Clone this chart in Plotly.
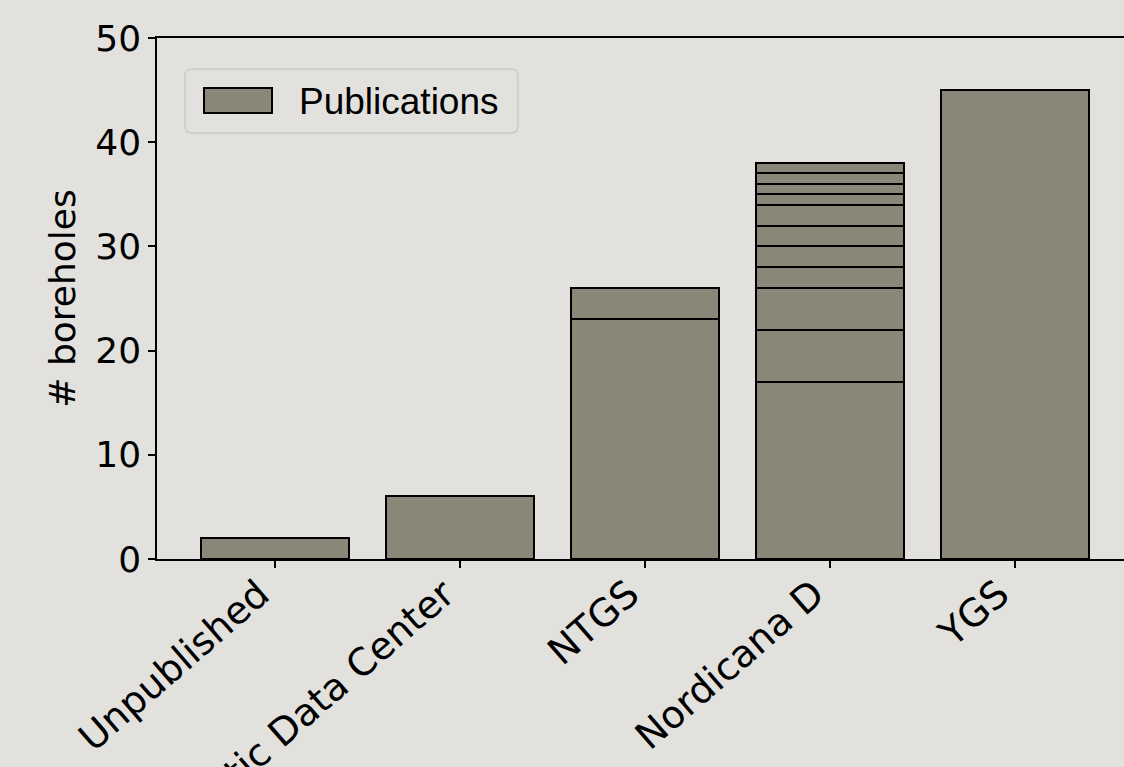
import plotly.graph_objects as go

# ---- data ----
categories = ["Unpublished", "Arctic Data Center", "NTGS", "Nordicana D", "YGS"]
unpublished_segments = [2]
arctic_segments = [6]
ntgs_segments = [23, 3]
nordicana_segments = [17, 5, 4, 2, 2, 2, 2, 1, 1, 1, 1]
ygs_segments = [45]
y_ticks = [0, 10, 20, 30, 40, 50]
legend_label = "Publications"
y_title = "# boreholes"

segments_by_cat = [unpublished_segments, arctic_segments, ntgs_segments,
                   nordicana_segments, ygs_segments]

BG = "#e2e1dd"
BAR = "#8a8779"

W, H = 1124, 767
L, R, T, B = 157, 0, 38, 208
PW, PH = W - L - R, H - T - B

fig = go.Figure()
n_levels = max(len(s) for s in segments_by_cat)
for lvl in range(n_levels):
    xs, ys = [], []
    for cat, segs in zip(categories, segments_by_cat):
        if lvl < len(segs):
            xs.append(cat)
            ys.append(segs[lvl])
    fig.add_trace(go.Bar(
        x=xs, y=ys, width=0.8,
        marker=dict(color=BAR, line=dict(color="black", width=2)),
        showlegend=False, name=legend_label,
    ))


def px2x(px):
    return (px - L) / PW


def px2y(py):
    return (H - B - py) / PH


# manual legend (matplotlib style)
x0, x1, y0, y1 = 185, 518, 69, 133
r = 7
rx, ry = r / PW, r / PH
X0, X1, Y0, Y1 = px2x(x0), px2x(x1), px2y(y1), px2y(y0)
path = (f"M {X0+rx},{Y0} L {X1-rx},{Y0} Q {X1},{Y0} {X1},{Y0+ry} "
        f"L {X1},{Y1-ry} Q {X1},{Y1} {X1-rx},{Y1} "
        f"L {X0+rx},{Y1} Q {X0},{Y1} {X0},{Y1-ry} "
        f"L {X0},{Y0+ry} Q {X0},{Y0} {X0+rx},{Y0} Z")
fig.add_shape(type="path", path=path, xref="paper", yref="paper",
              line=dict(color="#cbcac6", width=1.5), fillcolor=BG, layer="above")
fig.add_shape(type="rect", xref="paper", yref="paper",
              x0=px2x(204), x1=px2x(272), y0=px2y(113), y1=px2y(88),
              fillcolor=BAR, line=dict(color="black", width=2), layer="above")
fig.add_annotation(text=legend_label, xref="paper", yref="paper",
                   x=px2x(297), y=px2y(102), xanchor="left", yanchor="middle",
                   showarrow=False,
                   font=dict(family="Liberation Sans, Arial", size=37, color="black"))

fig.update_layout(
    width=W, height=H,
    margin=dict(l=L, r=R, t=T, b=B, pad=0),
    paper_bgcolor=BG, plot_bgcolor=BG,
    barmode="stack", bargap=0.2,
    showlegend=False,
    font=dict(family="DejaVu Sans", size=36, color="black"),
)
fig.update_xaxes(
    type="category", range=[-0.64, 4.59], automargin=False,
    showline=True, linecolor="black", linewidth=1.5, mirror=True,
    ticks="outside", ticklen=7, tickwidth=1.5, tickcolor="black",
    tickangle=-41, showgrid=False, zeroline=False,
    ticklabelshift=-16, ticklabelstandoff=-11,
    tickfont=dict(family="DejaVu Sans", size=38),
)
fig.update_yaxes(
    range=[0, 50], tickvals=y_ticks, automargin=False,
    showline=True, linecolor="black", linewidth=1.5, mirror=False,
    ticks="outside", ticklen=7, tickwidth=1.5, tickcolor="black",
    showgrid=False, zeroline=False,
    tickfont=dict(family="DejaVu Sans", size=36),
    title=dict(text=y_title, font=dict(family="DejaVu Sans", size=36), standoff=9),
)

fig.write_html("out.html")
